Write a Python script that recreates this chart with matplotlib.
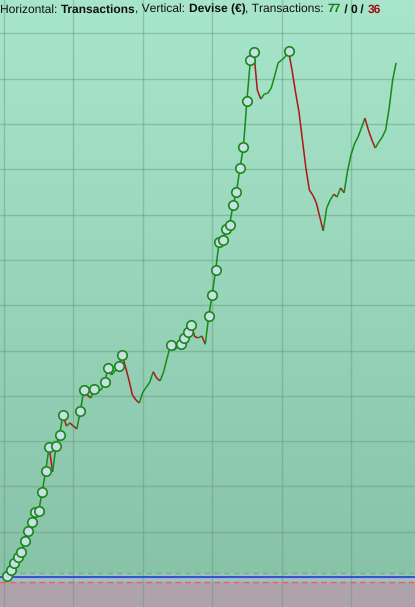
import numpy as np
import matplotlib
matplotlib.use("Agg")
import matplotlib.pyplot as plt
from matplotlib.collections import LineCollection
from matplotlib.colors import LinearSegmentedColormap
from matplotlib.font_manager import FontProperties

plt.rcParams["text.hinting"] = "no_hinting"
plt.rcParams["text.hinting_factor"] = 1

# equity after each transaction (€), index 0 = start
equity = [0, 2, 15, 31, 44, 55, 79, 102, 121, 143, 146, 188, 234, 287, 232,
          289, 313, 358, 333, 340, 333, 327, 366, 413, 402, 395, 415, 411, 413,
          430, 461, 446, 455, 466, 490, 464, 435, 402, 391, 384, 408, 419, 430,
          453, 439, 433, 453, 483, 512, 501, 508, 514, 528, 541, 556, 530, 528,
          532, 514, 576, 623, 678, 740, 744, 768, 777, 821, 850, 903, 949, 1051,
          1141, 1159, 1075, 1055, 1066, 1068, 1079, 1106, 1135, 1141, 1148, 1161,
          1119, 1071, 1027, 965, 903, 854, 843, 826, 795, 764, 815, 832, 845, 839,
          859, 848, 896, 932, 956, 971, 991, 1013, 987, 965, 947, 960, 971, 987,
          1035, 1097, 1135]
n_win, n_even, n_loss = 77, 0, 36
upper_level = 9     # green dashed line
lower_level = -11   # red dashed line

GREEN = "#178a17"
RED = "#b01515"

x = np.arange(len(equity))
y = np.array(equity, dtype=float)

fig = plt.figure(figsize=(4.15, 6.07), dpi=100)
ax = fig.add_axes([0, 0, 1, 1])
xmin, xmax = -4 / 3.47, 411 / 3.47
ymin, ymax = -30 * 100 / 45.3, 577 * 100 / 45.3
ax.set_xlim(xmin, xmax)
ax.set_ylim(ymin, ymax)
ax.axis("off")

# background gradient
cmap = LinearSegmentedColormap.from_list("bg", ["#86c1a6", "#a8e6cc"])
grad = np.linspace(0, 1, 256).reshape(-1, 1)
ax.imshow(grad, cmap=cmap, extent=[xmin, xmax, ymin, ymax], origin="lower",
          aspect="auto", zorder=0)

# zones below the start level
ax.axhspan(lower_level, upper_level, color="#9fbfc6", zorder=1, lw=0)
ax.axhspan(ymin, lower_level, color="#afa3ab", zorder=1, lw=0)

# grid
for gx in range(0, 120, 20):
    ax.axvline(gx, color="#5f8f77", alpha=0.4, lw=1, zorder=2)
for gy in range(0, 1300, 100):
    ax.axhline(gy, color="#5f8f77", alpha=0.4, lw=1, zorder=2)

ax.axhline(upper_level, color="#5ec45e", lw=1, ls=(0, (4, 3)), zorder=3)
ax.axhline(lower_level, color="#f05a5a", lw=1, ls=(0, (4, 3)), zorder=3)
ax.axhline(0, color="#2b3fd0", lw=1.2, zorder=3)

# equity line, green when up, red when down
segs = [[(x[i], y[i]), (x[i + 1], y[i + 1])] for i in range(len(x) - 1)]
cols = [GREEN if y[i + 1] >= y[i] else RED for i in range(len(x) - 1)]
ax.add_collection(LineCollection(segs, colors=cols, linewidths=1.1, zorder=4))

# markers on new highs
peak = np.maximum.accumulate(y)
new_high = np.r_[False, y[1:] > peak[:-1]]
ax.plot(x[new_high], y[new_high], "o", ms=6.8, mfc="#c8dfe6", mec=GREEN,
        mew=1.2, ls="none", zorder=5)

# header text in pieces
pieces = [("Horizontal: ", "normal", "#111111"), ("Transactions", "bold", "#111111"),
          (", Vertical: ", "normal", "#111111"), ("Devise (€)", "bold", "#111111"),
          (", Transactions: ", "normal", "#111111"), (str(n_win), "bold", "#1a7a1a"),
          (" / ", "bold", "#111111"), (str(n_even), "bold", "#111111"),
          (" / ", "bold", "#111111"), (str(n_loss), "bold", "#a01010")]
fsize = 8.8
renderer = fig.canvas.get_renderer()

px = 0.0
for txt, w, c in pieces:
    fig.text(px / 415, 1 - 12.5 / 607, txt, fontsize=fsize, fontweight=w,
             color=c, family="Liberation Sans", va="baseline", ha="left")
    prop = FontProperties(family="Liberation Sans", weight=w, size=fsize)
    px += renderer.get_text_width_height_descent(txt, prop, ismath=False)[0]

fig.savefig("out.png", dpi=100)
